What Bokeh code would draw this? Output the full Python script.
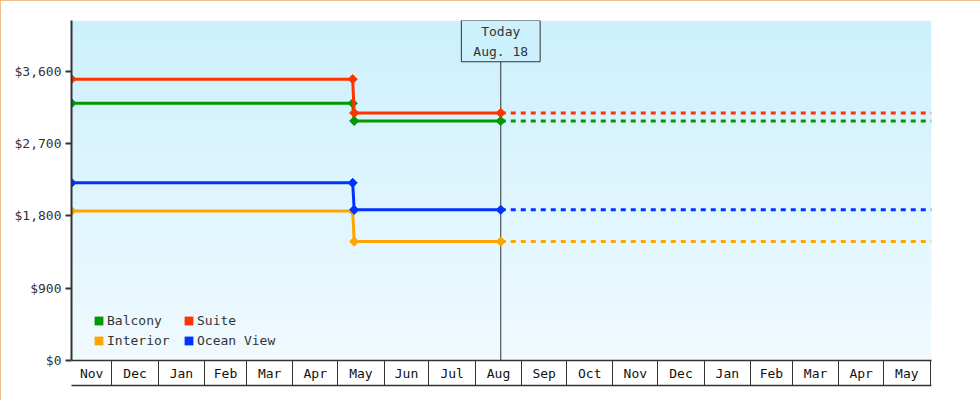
import numpy as np
import pandas as pd
from bokeh.plotting import figure
from bokeh.models import (Range1d, LinearAxis, FixedTicker, NumeralTickFormatter,
                          Span, Label, Legend, LegendItem, ColumnDataSource,
                          InlineStyleSheet)
from bokeh.embed import file_html
from bokeh.resources import INLINE

# ---------------- data ----------------
series_names = ["Balcony", "Interior", "Suite", "Ocean View"]
series_colors = ["#009900", "#FFA500", "#FF3300", "#0033FF"]
point_dates = ["2024-11-04", "2025-05-11", "2025-05-12", "2025-08-18"]
balcony = [3200, 3200, 2980, 2980]
interior = [1860, 1860, 1480, 1480]
suite = [3500, 3500, 3080, 3080]
ocean_view = [2210, 2210, 1875, 1875]
series_values = [balcony, interior, suite, ocean_view]
forecast_end = "2026-06-02"
today_date = "2025-08-18"
today_text = "Today\nAug. 18"
x_start, x_end = "2024-11-04", "2026-06-02"
y_start, y_end = 0, 4230
y_ticks = [0, 900, 1800, 2700, 3600]
month_labels = ["Nov", "Dec", "Jan", "Feb", "Mar", "Apr", "May", "Jun", "Jul", "Aug",
                "Sep", "Oct", "Nov", "Dec", "Jan", "Feb", "Mar", "Apr", "May"]
legend_order = ["Balcony", "Suite", "Interior", "Ocean View"]

FONT = "DejaVu Sans Mono"
TXT = "#333333"
top_col = (204, 240, 252)
bot_col = (240, 250, 255)


def ms(d):
    return pd.Timestamp(d).value / 1e6


xs0, xs1 = ms(x_start), ms(x_end)

p = figure(width=980, height=400, min_border_left=71, min_border_top=20,
           min_border_right=49, min_border_bottom=40, output_backend="svg",
           toolbar_location=None, x_axis_type=None, y_axis_type=None,
           x_range=Range1d(xs0, xs1), y_range=Range1d(y_start, y_end))
p.outline_line_color = None
p.xgrid.visible = False
p.ygrid.visible = False
p.background_fill_color = "white"
p.border_fill_color = "white"
p.stylesheets = [InlineStyleSheet(
    css=":host { outline: 2px solid #E8AA66; outline-offset: -2px; }")]

# gradient background
rows = 340
img = np.zeros((rows, 1), dtype=np.uint32)
view = img.view(dtype=np.uint8).reshape((rows, 1, 4))
for i in range(rows):
    t = i / (rows - 1)  # 0 bottom -> 1 top
    for k in range(3):
        view[i, 0, k] = int(round(bot_col[k] + (top_col[k] - bot_col[k]) * t))
    view[i, 0, 3] = 255
bg = p.image_rgba(image=[img], x=xs0, y=y_start, dw=xs1 - xs0, dh=y_end - y_start)
bg.level = "image"

# today line
today_ms = ms(today_date)
span = Span(location=today_ms, dimension="height", line_color=TXT, line_width=1,
            level="underlay")
p.add_layout(span)

# series
pdates = [pd.Timestamp(d) for d in point_dates]
legend_renderers = {}
for name, col, vals in zip(series_names, series_colors, series_values):
    src = ColumnDataSource(dict(x=pdates, y=vals))
    p.line("x", "y", source=src, line_color=col, line_width=3)
    fsrc = ColumnDataSource(dict(x=[pdates[-1], pd.Timestamp(forecast_end)],
                                 y=[vals[-1], vals[-1]]))
    p.line("x", "y", source=fsrc, line_color=col, line_width=3, line_dash="5 5")
    p.scatter("x", "y", source=src, marker="square", angle=np.pi / 4, size=6.5,
              fill_color=col, line_color=col, line_width=1)
    legend_renderers[name] = p.quad(left=[np.nan], right=[np.nan], top=[np.nan],
                                    bottom=[np.nan], fill_color=col, line_color=None)

# today label
lab = Label(x=today_ms, y=y_end, text=today_text, text_align="center",
            text_baseline="top", text_font=FONT, text_font_size="13px",
            text_color=TXT, text_line_height=1.35,
            border_line_color=TXT, border_line_width=1,
            background_fill_color="#%02x%02x%02x" % top_col, padding=(12, 3))
p.add_layout(lab)

# y axis
yaxis = LinearAxis(ticker=FixedTicker(ticks=y_ticks, minor_ticks=[]),
                   formatter=NumeralTickFormatter(format="$0,0"))
yaxis.axis_line_color = TXT
yaxis.axis_line_width = 2
yaxis.major_tick_line_color = TXT
yaxis.major_tick_line_width = 2
yaxis.major_tick_out = 6
yaxis.major_tick_in = 0
yaxis.major_label_standoff = 4
yaxis.major_label_text_font = FONT
yaxis.major_label_text_font_size = "13px"
yaxis.major_label_text_color = TXT
p.add_layout(yaxis, "left")

# x axis: month bands
mstarts = pd.date_range("2024-11-01", "2026-06-01", freq="MS")
bounds = [ms(d) for d in mstarts]
mids = []
for a, b in zip(bounds[:-1], bounds[1:]):
    a2, b2 = max(a, xs0), min(b, xs1)
    mids.append((a2 + b2) / 2)
overrides = {m: lbl for m, lbl in zip(mids, month_labels)}
xaxis = LinearAxis(ticker=FixedTicker(ticks=mids, minor_ticks=bounds[1:]))
xaxis.major_label_overrides = overrides
xaxis.axis_line_color = TXT
xaxis.axis_line_width = 1.5
xaxis.major_tick_line_color = None
xaxis.major_tick_out = 0
xaxis.major_tick_in = 0
xaxis.minor_tick_line_color = TXT
xaxis.minor_tick_line_width = 1
xaxis.minor_tick_out = 25
xaxis.minor_tick_in = 0
xaxis.major_label_standoff = -20
xaxis.major_label_text_font = FONT
xaxis.major_label_text_font_size = "13px"
xaxis.major_label_text_color = "#111111"
xaxis.axis_label = " "
xaxis.axis_label_standoff = -2
xaxis.axis_label_text_font_size = "1px"
p.add_layout(xaxis, "below")

xaxis2 = LinearAxis(ticker=FixedTicker(ticks=[], minor_ticks=[]))
xaxis2.axis_line_color = TXT
xaxis2.axis_line_width = 1.5
xaxis2.major_tick_line_color = None
xaxis2.minor_tick_line_color = None
xaxis2.major_label_text_font_size = "0px"
p.add_layout(xaxis2, "below")

# legend
items = [LegendItem(label=n, renderers=[legend_renderers[n]]) for n in legend_order]
legend = Legend(items=items, orientation="horizontal", ncols=2,
                location=(22, 10), padding=0, margin=0, spacing=0,
                glyph_width=11, glyph_height=11, label_standoff=3,
                label_width=76, label_height=20,
                label_text_font=FONT, label_text_font_size="13px",
                label_text_color=TXT, background_fill_alpha=0,
                border_line_color=None)
p.add_layout(legend, "center")

open("out.html", "w").write(file_html(p, INLINE))
